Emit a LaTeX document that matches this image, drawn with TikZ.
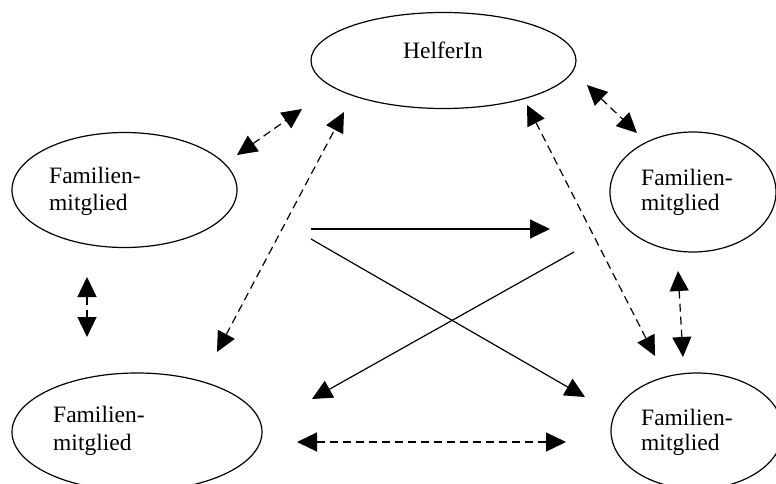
\documentclass[tikz,border=0pt]{standalone}
\usepackage{fontspec}
\setmainfont{Liberation Serif}
\usetikzlibrary{arrows.meta,shapes.geometric}
\begin{document}
\begin{tikzpicture}[x=1pt,y=-1pt,
  ell/.style={draw,ellipse,line width=1.2pt,inner sep=0pt},
  lbl/.style={inner sep=0pt,font=\fontsize{23.5}{27}\selectfont},
  dashedarrow/.style={dashed,dash pattern=on 8pt off 5pt,line width=1.2pt,
     {Triangle[length=20pt,width=19pt]}-{Triangle[length=20pt,width=19pt]}},
  solidarrow/.style={line width=1.2pt,-{Triangle[length=20pt,width=19pt]}}]
\useasboundingbox (0,0) rectangle (776,484);
% ellipses
\node[ell,minimum width=265pt,minimum height=96pt] (H) at (443.5,60.5) {};
\node[ell,minimum width=225pt,minimum height=115pt] (L) at (124.5,190) {};
\node[ell,minimum width=166pt,minimum height=120pt] (R) at (693,192) {};
\node[ell,minimum width=250pt,minimum height=118pt] (BL) at (137,432) {};
\node[ell,minimum width=172pt,minimum height=116pt] (BR) at (697,431) {};
% texts
\node[lbl,anchor=base] (tH) at (443,59) {HelferIn};
\node[lbl,anchor=base west] (tL1) at (49,183) {Familien-};
\node[lbl,anchor=base west] (tL2) at (49,210) {mitglied};
\node[lbl,anchor=base west] (tR1) at (641,185) {Familien-};
\node[lbl,anchor=base west] (tR2) at (641,210) {mitglied};
\node[lbl,anchor=base west] (tBL1) at (53,422) {Familien-};
\node[lbl,anchor=base west] (tBL2) at (53,450) {mitglied};
\node[lbl,anchor=base west] (tBR1) at (641,425) {Familien-};
\node[lbl,anchor=base west] (tBR2) at (641,450) {mitglied};
% arrow end points
\coordinate (a1s) at (237,155); \coordinate (a1e) at (302,109);
\coordinate (a2s) at (217,352); \coordinate (a2e) at (344,112);
\coordinate (a3s) at (587,85);  \coordinate (a3e) at (637,133);
\coordinate (a4s) at (527,105); \coordinate (a4e) at (655,356);
\coordinate (a5s) at (87,277);  \coordinate (a5e) at (87,337);
\coordinate (a6s) at (678,271); \coordinate (a6e) at (683,357);
\coordinate (a7s) at (297,442); \coordinate (a7e) at (566,442);
\coordinate (s1s) at (311,229); \coordinate (s1e) at (550,229);
\coordinate (s2s) at (311,239); \coordinate (s2e) at (585,397);
\coordinate (s3s) at (574,252); \coordinate (s3e) at (312,399);
% dashed double arrows
\draw[dashedarrow] (a1s) -- (a1e);
\draw[dashedarrow] (a2s) -- (a2e);
\draw[dashedarrow] (a3s) -- (a3e);
\draw[dashedarrow] (a4s) -- (a4e);
\draw[dashedarrow] (a5s) -- (a5e);
\draw[dashedarrow] (a6s) -- (a6e);
\draw[dashedarrow] (a7s) -- (a7e);
% solid arrows
\draw[solidarrow] (s1s) -- (s1e);
\draw[solidarrow] (s2s) -- (s2e);
\draw[solidarrow] (s3s) -- (s3e);
\end{tikzpicture}
\end{document}
